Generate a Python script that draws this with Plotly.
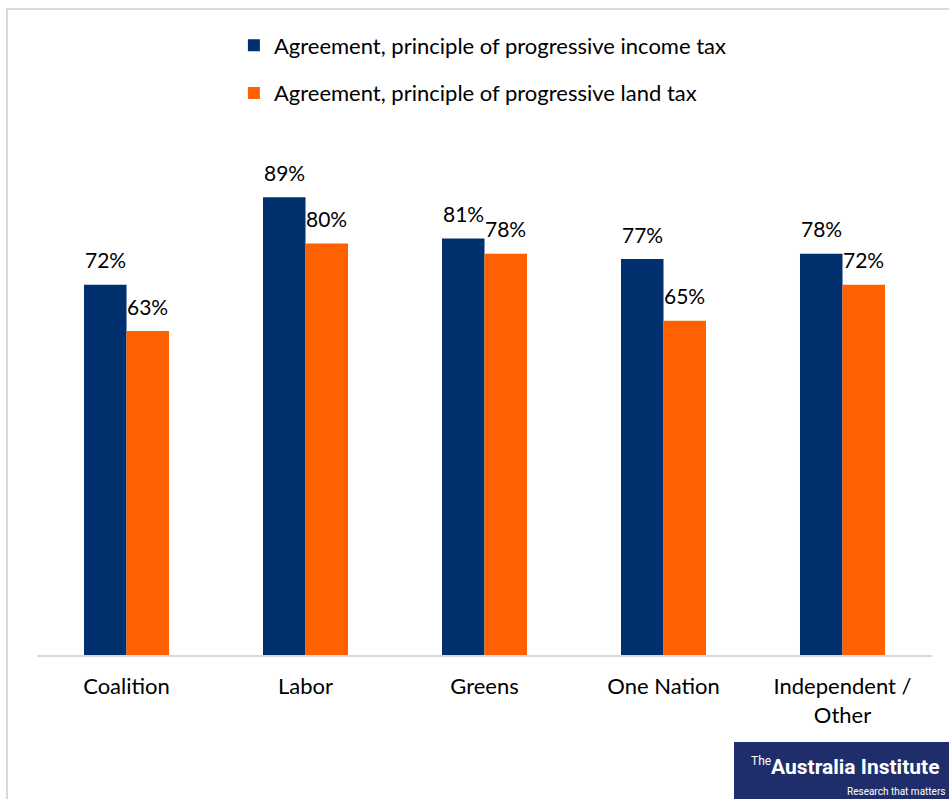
import plotly.graph_objects as go

categories = ["Coalition", "Labor", "Greens", "One Nation", "Independent /<br>Other"]
income_tax = [72, 89, 81, 77, 78]
land_tax = [63, 80, 78, 65, 72]
series_names = ["Agreement, principle of progressive income tax",
                "Agreement, principle of progressive land tax"]
colors = ["#00306E", "#FF6000"]

FONT = "Lato"
fig = go.Figure()
for name, vals, col, grp in [(series_names[0], income_tax, colors[0], "a"),
                             (series_names[1], land_tax, colors[1], "b")]:
    fig.add_trace(go.Bar(x=categories, y=vals, name=name, marker_color=col,
                         marker_line_width=0, legendgroup=grp))

# data labels
for vals, xs in [(income_tax, -21), (land_tax, 21)]:
    for c, v in zip(categories, vals):
        fig.add_annotation(x=c, y=v, xref="x", yref="y", text=f"{v}%",
                           showarrow=False, xshift=xs, yshift=25,
                           yanchor="middle",
                           font=dict(family=FONT, size=21, color="#000000"))

# frame border
fig.add_shape(type="rect", xref="paper", yref="paper",
              x0=-0.0335, x1=1.05, y0=1.2817, y1=-0.35,
              line=dict(color="#D9D9D9", width=2), fillcolor="rgba(0,0,0,0)",
              layer="below")
# logo box
fig.add_shape(type="rect", xref="paper", yref="paper",
              x0=0.7788, x1=1.05, y0=-0.1726, y1=-0.4,
              line=dict(width=0), fillcolor="#1F2D6B", layer="above")
fig.add_annotation(xref="paper", yref="paper", x=0.7955, y=-0.21,
                   xanchor="left", yanchor="middle", showarrow=False,
                   text="The",
                   font=dict(family="Roboto", size=12, color="#FFFFFF"))
fig.add_annotation(xref="paper", yref="paper", x=1.0112, y=-0.222,
                   xanchor="right", yanchor="middle", showarrow=False,
                   text="<b>Australia Institute</b>",
                   font=dict(family="Roboto", size=21, color="#FFFFFF"))
fig.add_annotation(xref="paper", yref="paper", x=1.0165, y=-0.27,
                   xanchor="right", yanchor="middle", showarrow=False,
                   text="Research that matters",
                   font=dict(family="Roboto", size=10, color="#FFFFFF"))

fig.update_layout(
    width=949, height=799,
    margin=dict(l=37, r=17, t=151, b=144),
    paper_bgcolor="white", plot_bgcolor="white",
    barmode="group", bargap=0.525, bargroupgap=0,
    font=dict(family=FONT, size=22, color="#000000"),
    showlegend=True,
    legend=dict(x=0.22, y=1.251, xanchor="left", yanchor="top",
                orientation="v", tracegroupgap=16,
                font=dict(family=FONT, size=22, color="#000000"),
                bgcolor="rgba(0,0,0,0)"),
    xaxis=dict(showline=True, linecolor="#D9D9D9", linewidth=2,
               ticks="", showgrid=False, ticklabelstandoff=11,
               tickfont=dict(family=FONT, size=22, color="#000000")),
    yaxis=dict(range=[0, 98], visible=False, showgrid=False, zeroline=False),
)

fig.write_html("out.html", config={"displayModeBar": False},
               post_script="document.body.style.margin='0';")
